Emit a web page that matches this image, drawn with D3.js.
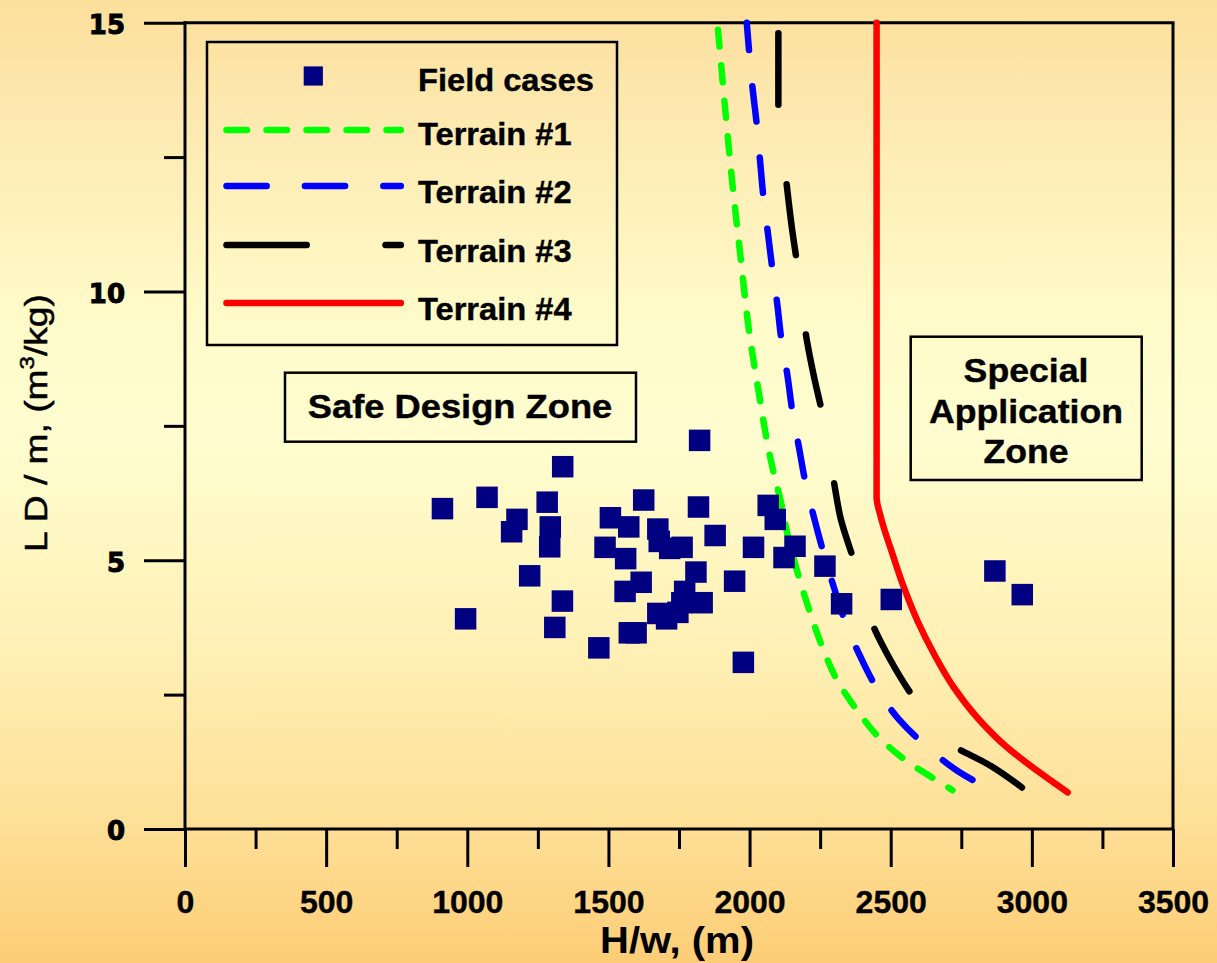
<!DOCTYPE html>
<html>
<head>
<meta charset="utf-8">
<script src="https://cdn.jsdelivr.net/npm/d3@7"></script>
<style>
html,body{margin:0;padding:0;overflow:hidden;background:#fff;}
svg{display:block;}
</style>
</head>
<body>
<svg id="chart" width="1217" height="963"></svg>
<script>
// ---------------- DATA ----------------
const xMajorTicks = [0, 500, 1000, 1500, 2000, 2500, 3000, 3500];
const xMinorTicks = [250, 750, 1250, 1750, 2250, 2750, 3250];
const yMajorTicks = [0, 5, 10, 15];
const yMinorTicks = [2.5, 7.5, 12.5];

const xTitle = "H/w, (m)";
const yTitleMain = "L D / m, (m";
const yTitleSup = "3";
const yTitleEnd = "/kg)";

const seriesNames = ["Field cases", "Terrain #1", "Terrain #2", "Terrain #3", "Terrain #4"];
const safeZoneLabel = ["Safe Design Zone"];
const specialZoneLabel = ["Special", "Application", "Zone"];

// Field cases: [H/w, LD/m]
const fieldCases = [
  [912,5.96],[994,3.91],[1070,6.17],[1157,5.53],[1176,5.76],[1221,4.71],[1283,6.08],
  [1292,5.25],[1294,5.62],[1310,3.75],[1337,4.24],[1338,6.74],[1466,3.37],[1488,5.24],
  [1507,5.79],[1559,4.42],[1561,5.03],[1572,5.62],[1574,3.65],[1598,3.65],[1616,4.59],
  [1625,6.12],[1675,5.58],[1680,5.35],[1675,4.01],[1706,3.91],[1717,5.22],[1746,4.03],
  [1760,4.21],[1761,5.24],[1770,4.42],[1810,4.78],[1819,5.99],[1823,7.23],[1832,4.21],
  [1878,5.46],[1947,4.61],[1978,3.10],[2014,5.24],[2066,6.02],[2091,5.76],[2122,5.05],
  [2161,5.26],[2267,4.89],[2326,4.19],[2502,4.27],[2869,4.80],[2966,4.36]
];

const terrain1 = [
  [1886,15.0],[1915,13.31],[1939,12.01],[1968,10.64],[1997,9.31],[2038,7.95],[2057,7.35],
  [2086,6.61],[2110,6.11],[2134,5.49],[2175,4.68],[2216,4.00],[2258,3.38],[2311,2.76],
  [2382,2.20],[2465,1.67],[2571,1.21],[2677,0.86],[2719,0.72]
];

const terrain2 = [
  [1990,15.0],[1998,14.49],[2010,13.81],[2025,13.13],[2037,12.44],[2049,11.76],[2065,11.08],
  [2080,10.45],[2098,9.77],[2113,9.09],[2134,8.44],[2151,7.79],[2175,7.10],[2199,6.42],
  [2228,5.80],[2263,5.12],[2299,4.49],[2340,3.84],[2394,3.19],[2453,2.60],[2529,2.04],
  [2624,1.55],[2737,1.08],[2849,0.74]
];

const terrain3 = [
  [2102,15.0],[2102,14.2],[2102,13.47],[2131,12.01],[2149,11.22],[2171,10.42],[2204,9.06],
  [2228,8.42],[2258,7.72],[2299,6.45],[2323,5.77],[2364,5.08],[2435,3.81],[2494,3.19],
  [2565,2.57],[2720,1.55],[2843,1.21],[2973,0.74]
];

const terrain4 = [
  [2450,15.0],[2450,11.0],[2450,8.0],[2450,6.17],[2465,5.80],[2506,5.12],[2547,4.49],
  [2595,3.87],[2654,3.25],[2724,2.63],[2807,2.07],[2914,1.51],[3020,1.08],[3127,0.68]
];

// ---------------- STYLE / LAYOUT ----------------
const W = 1217, H = 963;
const plot = {left: 185, right: 1173, top: 22.7, bottom: 829};
const FONT = "'Liberation Sans', Arial, Helvetica, sans-serif";

const lineStyles = [
  {data: terrain1, color: "#00ff00", dash: "17 18.7", offset: -7, legendDash: "20.5 19.5"},
  {data: terrain2, color: "#0000ff", dash: "35.5 36.2", offset: 8, legendDash: "40.2 38.2"},
  {data: terrain3, color: "#000000", dash: "71.5 80", offset: -10.5, legendDash: "80.2 78.8"},
  {data: terrain4, color: "#ff0000", dash: null, offset: 0, legendDash: null}
];
const LW = 6.5;
const markerColor = "#000080";
const markerSize = 21.5;

const svg = d3.select("#chart");

// background gradient
const defs = svg.append("defs");
const grad = defs.append("linearGradient").attr("id", "bg")
  .attr("x1", 0).attr("y1", 0).attr("x2", 0).attr("y2", 1);
[[0, "#fcdf9c"], [0.12, "#fde9b0"], [0.32, "#fffac8"], [0.45, "#fffdd0"],
 [0.68, "#fff0b4"], [0.86, "#fedf96"], [1, "#fdcd76"]].forEach(([o, c]) =>
  grad.append("stop").attr("offset", o).attr("stop-color", c));
svg.append("rect").attr("width", W).attr("height", H).attr("fill", "url(#bg)");

const x = d3.scaleLinear().domain([0, 3500]).range([plot.left, plot.right]);
const y = d3.scaleLinear().domain([0, 15]).range([plot.bottom, plot.top]);

// ---------------- AXES ----------------
function styleAxis(g) {
  g.select(".domain").remove();
  g.selectAll(".tick line").attr("stroke", "#000").attr("stroke-width", 3);
}

const gxMajor = svg.append("g").attr("transform", `translate(0,${plot.bottom})`)
  .call(d3.axisBottom(x).tickValues(xMajorTicks).tickSize(38).tickSizeOuter(0).tickFormat(d3.format("d")));
styleAxis(gxMajor);
gxMajor.selectAll(".tick text")
  .attr("y", 84).attr("dy", 0)
  .attr("font-family", FONT).attr("font-weight", "bold").attr("font-size", 32)
  .attr("fill", "#000").attr("stroke", "#000").attr("stroke-width", 0.4);

const gxMinor = svg.append("g").attr("transform", `translate(0,${plot.bottom})`)
  .call(d3.axisBottom(x).tickValues(xMinorTicks).tickSize(20).tickSizeOuter(0).tickFormat(""));
styleAxis(gxMinor);

const gyMajor = svg.append("g").attr("transform", `translate(${plot.left},0)`)
  .call(d3.axisLeft(y).tickValues(yMajorTicks).tickSize(41).tickSizeOuter(0).tickFormat(d3.format("d")));
styleAxis(gyMajor);
gyMajor.selectAll(".tick text")
  .attr("x", -60).attr("dy", "0.42em")
  .attr("font-family", "'DejaVu Sans', sans-serif").attr("font-weight", "bold").attr("font-size", 26)
  .attr("fill", "#000").attr("stroke", "#000").attr("stroke-width", 1);

const gyMinor = svg.append("g").attr("transform", `translate(${plot.left},0)`)
  .call(d3.axisLeft(y).tickValues(yMinorTicks).tickSize(21).tickSizeOuter(0).tickFormat(""));
styleAxis(gyMinor);

// frame
const frame = svg.append("g").attr("stroke", "#000").attr("stroke-width", 3).attr("fill", "none");
frame.append("line").attr("x1", x(0)).attr("x2", x(0)).attr("y1", y(15) - 1.5).attr("y2", y(0));
frame.append("line").attr("x1", x(0)).attr("x2", x(3500)).attr("y1", y(0)).attr("y2", y(0));
frame.append("line").attr("x1", x(0) - 1.5).attr("x2", x(3500) + 1.5).attr("y1", y(15)).attr("y2", y(15));
frame.append("line").attr("x1", x(3500)).attr("x2", x(3500)).attr("y1", y(15)).attr("y2", y(0));

// axis titles
svg.append("text")
  .attr("transform", `translate(677,953) scale(1.08,1)`)
  .attr("text-anchor", "middle")
  .attr("font-family", FONT).attr("font-weight", "bold").attr("font-size", 37)
  .attr("fill", "#000").text(xTitle);

const yt = svg.append("text")
  .attr("transform", `translate(47,423) rotate(-90) scale(1.2,1)`)
  .attr("text-anchor", "middle")
  .attr("font-family", FONT).attr("font-size", 31).attr("fill", "#000")
  .attr("stroke", "#000").attr("stroke-width", 0.5);
yt.append("tspan").text(yTitleMain);
yt.append("tspan").attr("dy", -13).attr("font-size", 20).text(yTitleSup);
yt.append("tspan").attr("dy", 13).text(yTitleEnd);

// ---------------- CURVES ----------------
const line = d3.line().x(d => x(d[0])).y(d => y(d[1])).curve(d3.curveMonotoneY);
lineStyles.forEach(s => {
  const p = svg.append("path").datum(s.data)
    .attr("d", line)
    .attr("fill", "none")
    .attr("stroke", s.color)
    .attr("stroke-width", LW)
    .attr("stroke-linecap", "round")
    .attr("stroke-linejoin", "round");
  if (s.dash) p.attr("stroke-dasharray", s.dash).attr("stroke-dashoffset", s.offset);
});

// ---------------- FIELD CASES ----------------
svg.append("g").selectAll("rect").data(fieldCases).join("rect")
  .attr("x", d => x(d[0]) - markerSize / 2)
  .attr("y", d => y(d[1]) - markerSize / 2)
  .attr("width", markerSize).attr("height", markerSize)
  .attr("fill", markerColor);

// ---------------- LEGEND ----------------
const leg = svg.append("g");
leg.append("rect").attr("x", 207).attr("y", 42).attr("width", 410).attr("height", 303)
  .attr("fill", "none").attr("stroke", "#000").attr("stroke-width", 2.5);
const rowY = [76, 130, 186, 245, 303];
const textBase = [90.7, 145, 203.3, 261.7, 320];
leg.append("rect").attr("x", 313.3 - 9.6).attr("y", rowY[0] - 9.6)
  .attr("width", 19.2).attr("height", 19.2).attr("fill", markerColor);
lineStyles.forEach((s, i) => {
  const l = leg.append("line")
    .attr("x1", 226.5).attr("x2", 400.8)
    .attr("y1", rowY[i + 1]).attr("y2", rowY[i + 1])
    .attr("stroke", s.color).attr("stroke-width", LW).attr("stroke-linecap", "round");
  if (s.legendDash) l.attr("stroke-dasharray", s.legendDash);
});
seriesNames.forEach((n, i) => {
  leg.append("text").attr("transform", `translate(418,${textBase[i]}) scale(1.02,1)`)
    .attr("font-family", FONT).attr("font-weight", "bold").attr("font-size", 32)
    .attr("fill", "#000").attr("stroke", "#000").attr("stroke-width", 0.4).text(n);
});

// ---------------- ZONE BOXES ----------------
svg.append("rect").attr("x", 285).attr("y", 372.7).attr("width", 351).attr("height", 69)
  .attr("fill", "none").attr("stroke", "#000").attr("stroke-width", 2.5);
safeZoneLabel.forEach((t, i) => {
  svg.append("text").attr("transform", `translate(460,418) scale(1.1,1)`)
    .attr("text-anchor", "middle")
    .attr("font-family", FONT).attr("font-weight", "bold").attr("font-size", 33)
    .attr("fill", "#000").attr("stroke", "#000").attr("stroke-width", 0.4).text(t);
});

svg.append("rect").attr("x", 910.7).attr("y", 336.7).attr("width", 231).attr("height", 143.3)
  .attr("fill", "none").attr("stroke", "#000").attr("stroke-width", 2.5);
const specBase = [381.7, 422.7, 462.7];
specialZoneLabel.forEach((t, i) => {
  svg.append("text").attr("transform", `translate(1026,${specBase[i]}) scale(1.08,1)`)
    .attr("text-anchor", "middle")
    .attr("font-family", FONT).attr("font-weight", "bold").attr("font-size", 33)
    .attr("fill", "#000").attr("stroke", "#000").attr("stroke-width", 0.4).text(t);
});
</script>
</body>
</html>
